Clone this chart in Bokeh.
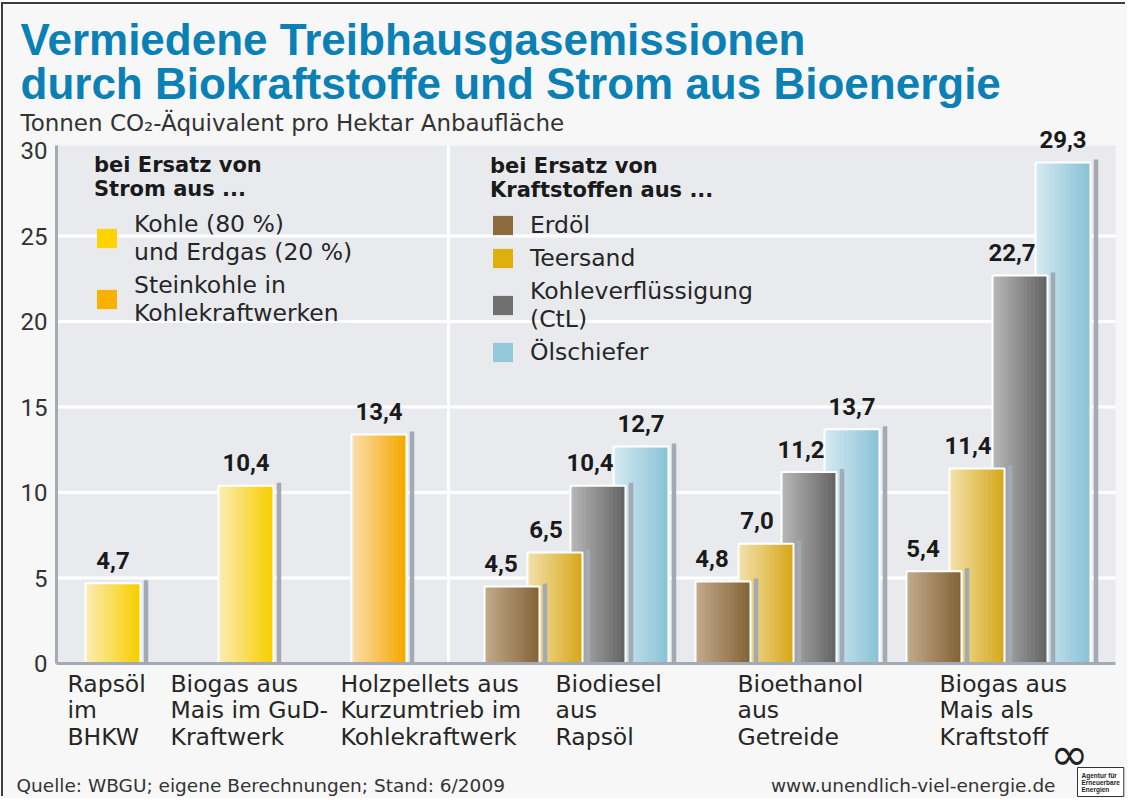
import numpy as np
from bokeh.plotting import figure
from bokeh.models import Range1d, FixedTicker, Legend, LegendItem, Label
from bokeh.core.properties import value
from bokeh.embed import file_html
from bokeh.resources import INLINE

# ---------------- data ----------------
strom_kategorien = ["Rapsöl\nim\nBHKW", "Biogas aus\nMais im GuD-\nKraftwerk",
                    "Holzpellets aus\nKurzumtrieb im\nKohlekraftwerk"]
strom_werte = [4.7, 10.4, 13.4]
strom_ersatz = ["kohle_erdgas", "kohle_erdgas", "steinkohle"]
strom_legende = {"kohle_erdgas": "Kohle (80 %)\nund Erdgas (20 %)",
                 "steinkohle": "Steinkohle in\nKohlekraftwerken"}

kraftstoff_kategorien = ["Biodiesel\naus\nRapsöl", "Bioethanol\naus\nGetreide",
                         "Biogas aus\nMais als\nKraftstoff"]
erdoel = [4.5, 4.8, 5.4]
teersand = [6.5, 7.0, 11.4]
kohleverfluessigung = [10.4, 11.2, 22.7]
oelschiefer = [12.7, 13.7, 29.3]
kraftstoff_legende = ["Erdöl", "Teersand", "Kohleverflüssigung\n(CtL)", "Ölschiefer"]

y_ticks = [0, 5, 10, 15, 20, 25, 30]
grid_ticks = [5, 10, 15, 20, 25]

# ---------------- layout helpers (page pixels -> data) ----------------
W, H = 1124, 794          # canvas, placed at page (5, 6)
CX, CY = 5, 6
FL, FR, FT, FB = 58, 1117, 147, 665   # chart panel in page px
XMAX, YMAX = 8.0, 30.3
PXX = XMAX / (FR - FL)
PXY = YMAX / (FB - FT)


def X(px):
    return (px - FL) * PXX


def Y(py):
    return (FB - py) * PXY


BAR_PX = 55
SER_PX = 43
strom_x = [X(114.5) + i * 133 * PXX for i in range(3)]
fuel_x = [X(578) + i * 211 * PXX for i in range(3)]

SHADOW = "#a3aab4"
FONT = "DejaVu Sans"
NUMFONT = "Roboto"
TXT = "#262626"
BG = "#f7f7f7"
PANEL = "#e9eaee"

COL = {
    "kohle_erdgas": ("#fcebb0", "#f8cf00", "#ffd200"),
    "steinkohle": ("#fcdcab", "#f5aa00", "#f8b100"),
    "erdoel": ("#c3a98a", "#85663a", "#8c6a3b"),
    "teersand": ("#f2e0a8", "#d8a91e", "#ddb00c"),
    "ctl": ("#b6b6b6", "#666666", "#6f6f6f"),
    "oel": ("#d4e9f1", "#8bc3d7", "#93c8db"),
}


def mix(c1, c2, t):
    a = [int(c1[i:i + 2], 16) for i in (1, 3, 5)]
    b = [int(c2[i:i + 2], 16) for i in (1, 3, 5)]
    return "#%02x%02x%02x" % tuple(int(round(a[j] + (b[j] - a[j]) * t)) for j in range(3))


p = figure(width=W, height=H,
           x_range=Range1d(X(CX), X(CX + W)), y_range=Range1d(Y(CY + H), Y(CY)),
           output_backend="svg", toolbar_location=None,
           min_border=0, min_border_left=0, min_border_right=0,
           min_border_top=0, min_border_bottom=0)
p.styles = {"margin-left": "3px", "margin-top": "4px", "box-shadow": "-2px -2px 0 0 #3c3c3c"}
p.background_fill_color = BG
p.border_fill_color = BG
p.outline_line_color = None
p.xgrid.visible = False
p.ygrid.visible = False

# axes drawn at fixed data locations
p.yaxis.fixed_location = 0
p.yaxis.bounds = (0, Y(FT))
p.yaxis.ticker = FixedTicker(ticks=y_ticks)
p.yaxis.axis_line_color = SHADOW
p.yaxis.axis_line_width = 3
p.yaxis.major_tick_line_color = None
p.yaxis.minor_tick_line_color = None
p.yaxis.major_tick_out = 0
p.yaxis.major_tick_in = 0
p.yaxis.major_label_standoff = 9
p.yaxis.major_label_text_font = NUMFONT
p.yaxis.major_label_text_font_size = "24px"
p.yaxis.major_label_text_color = "#333333"

p.xaxis.fixed_location = 0
p.xaxis.bounds = (0, XMAX)
p.xaxis.ticker = FixedTicker(ticks=[])
p.xaxis.axis_line_color = SHADOW
p.xaxis.axis_line_width = 3
p.xaxis.major_tick_line_color = None
p.xaxis.minor_tick_line_color = None

# chart panel, white grid lines and separator
p.quad(left=0, right=XMAX, bottom=0, top=Y(FT), fill_color=PANEL, line_color=None)
p.segment(x0=[0] * len(grid_ticks), x1=[XMAX] * len(grid_ticks), y0=grid_ticks, y1=grid_ticks,
          line_color="white", line_width=3)
p.segment(x0=[X(450)], x1=[X(450)], y0=[0], y1=[Y(FT)], line_color="white", line_width=3)


def draw_bars(xs, vals, key):
    light, dark, solid = COL[key]
    xs = np.asarray(xs, float)
    vals = np.asarray(vals, float)
    w = BAR_PX * PXX
    p.vbar(x=xs + (BAR_PX / 2 + 5.5) * PXX, top=vals + 3 * PXY, bottom=0,
           width=4.5 * PXX, fill_color=SHADOW, line_color=None)
    main = p.vbar(x=xs, top=vals, bottom=0, width=w, fill_color=solid, line_color=None)
    n = 14
    sx, st, sc = [], [], []
    for xi, vi in zip(xs, vals):
        for k in range(n):
            sx.append(xi - w / 2 + (k + 0.5) * w / n)
            st.append(vi)
            sc.append(mix(light, dark, k / (n - 1)))
    p.vbar(x=sx, top=st, bottom=0, width=w / n * 1.25, fill_color=sc, line_color=None)
    p.vbar(x=xs, top=vals, bottom=0, width=w, fill_color=None, line_color="white", line_width=2)
    return main


# electricity bars
strom_renderers = {}
for key in ["kohle_erdgas", "steinkohle"]:
    idx = [i for i, e in enumerate(strom_ersatz) if e == key]
    strom_renderers[key] = draw_bars([strom_x[i] for i in idx], [strom_werte[i] for i in idx], key)

# fuel bars, back to front
series = [("erdoel", erdoel), ("teersand", teersand), ("ctl", kohleverfluessigung), ("oel", oelschiefer)]
fuel_renderers = {}
for s in [3, 2, 1, 0]:
    key, vals = series[s]
    xs = [gx + (s - 1.5) * SER_PX * PXX for gx in fuel_x]
    fuel_renderers[key] = draw_bars(xs, vals, key)


def fmt(v):
    return ("%.1f" % v).replace(".", ",")


# value labels
lab_x, lab_y, lab_t = [], [], []
for xi, v in zip(strom_x, strom_werte):
    lab_x.append(xi); lab_y.append(v + 23 * PXY); lab_t.append(fmt(v))
lab_shift = [-11, -9, -8, 0]
for s, (key, vals) in enumerate(series):
    for gx, v in zip(fuel_x, vals):
        lab_x.append(gx + (s - 1.5) * SER_PX * PXX + lab_shift[s] * PXX)
        lab_y.append(v + 23 * PXY)
        lab_t.append(fmt(v))
p.text(x=lab_x, y=lab_y, text=lab_t, text_align="center", text_baseline="middle",
       text_font=value(NUMFONT), text_font_style="bold", text_font_size="24px", text_color="#1a1a1a")

# legends
legend_common = dict(background_fill_alpha=0, border_line_color=None, padding=0, margin=0,
                     spacing=5, label_standoff=15, glyph_width=25, glyph_height=24,
                     title_standoff=9, label_text_font=FONT, label_text_font_size="23.5px",
                     label_text_line_height=0.93, label_text_color=TXT,
                     title_text_font=FONT, title_text_font_style="bold",
                     title_text_font_size="21px", title_text_line_height=1.0,
                     title_text_color="#1a1a1a")
leg1 = Legend(items=[LegendItem(label=strom_legende[k], renderers=[strom_renderers[k]])
                     for k in ["kohle_erdgas", "steinkohle"]],
              title="bei Ersatz von\nStrom aus ...", location=(91, 800 - 329), **legend_common)
leg2 = Legend(items=[LegendItem(label=kraftstoff_legende[i], renderers=[fuel_renderers[series[i][0]]])
                     for i in range(4)],
              title="bei Ersatz von\nKraftstoffen aus ...", location=(487, 800 - 368), **legend_common)
p.add_layout(leg1)
p.add_layout(leg2)

# category labels
cat_shift = [-45.5, -75.5, -38.5]
cat_shift2 = [-21, -50, -59]
for xi, t, sh in list(zip(strom_x, strom_kategorien, cat_shift)) + list(zip(fuel_x, kraftstoff_kategorien, cat_shift2)):
    p.add_layout(Label(x=xi + sh * PXX, y=Y(712), text=t, text_align="left", text_baseline="middle",
                       text_font=FONT, text_font_size="23.5px", text_color=TXT, text_line_height=0.95))

# titles
for txt, py in [("Vermiedene Treibhausgasemissionen", 41),
                ("durch Biokraftstoffe und Strom aus Bioenergie", 85)]:
    p.add_layout(Label(x=X(22), y=Y(py), text=txt,
                       text_font="Liberation Sans", text_font_style="bold", text_font_size="44px",
                       text_color="#0a80b4", text_baseline="middle"))
p.add_layout(Label(x=X(22), y=Y(124), text="Tonnen CO₂-Äquivalent pro Hektar Anbaufläche",
                   text_font=FONT, text_font_size="23px", text_color="#333333",
                   text_baseline="middle"))

# footer
p.add_layout(Label(x=X(18), y=Y(787), text="Quelle: WBGU; eigene Berechnungen; Stand: 6/2009",
                   text_font=FONT, text_font_size="18.5px", text_color="#333333",
                   text_baseline="middle"))
p.add_layout(Label(x=X(1057), y=Y(787), text="www.unendlich-viel-energie.de",
                   text_font=FONT, text_font_size="18.5px", text_color="#333333",
                   text_align="right", text_baseline="middle"))
p.add_layout(Label(x=X(1079), y=Y(769), text="Agentur für\nErneuerbare\nEnergien",
                   text_font="Liberation Sans", text_font_style="bold", text_font_size="6.5px",
                   text_color="#222222", text_align="left", text_baseline="top",
                   text_line_height=1.0, padding=4, border_line_color="#333333",
                   border_line_width=1, background_fill_color="white"))
p.add_layout(Label(x=X(1071), y=Y(755), text="∞", text_font="DejaVu Sans",
                   text_font_size="46px", text_color="#222222", text_align="center",
                   text_baseline="middle"))

open("out.html", "w").write(file_html(p, INLINE))
